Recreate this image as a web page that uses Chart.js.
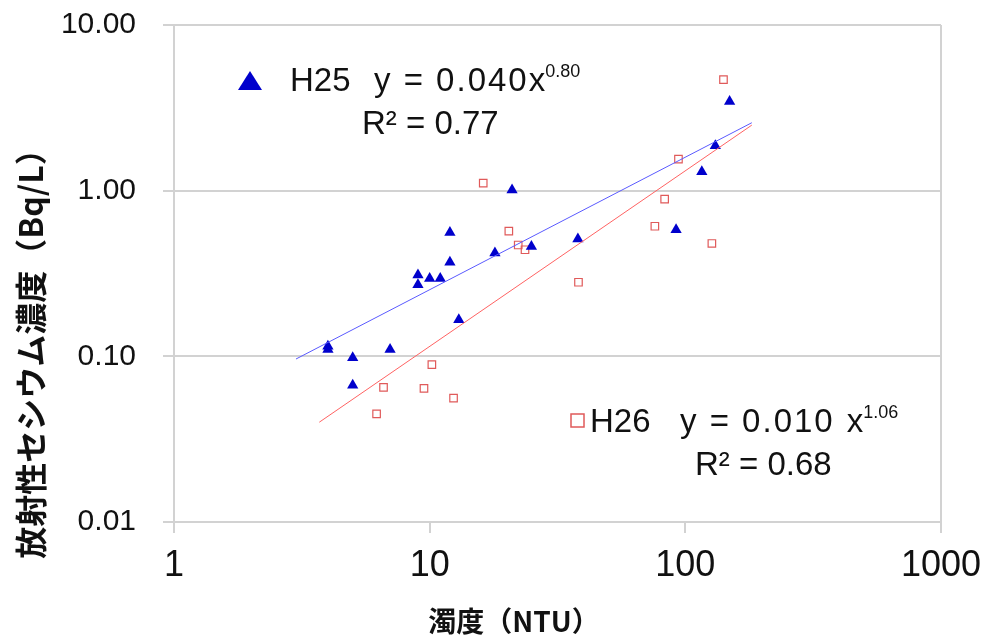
<!DOCTYPE html>
<html lang="ja">
<head>
<meta charset="utf-8">
<title>濁度と放射性セシウム濃度</title>
<script src="https://cdn.jsdelivr.net/npm/chart.js@4/dist/chart.umd.min.js"></script>
<style>
  html, body { margin: 0; padding: 0; background: #fff; }
  #wrap { position: relative; width: 983px; height: 641px; }
</style>
</head>
<body>
<div id="wrap"><canvas id="c"></canvas></div>
<script>
// H25 survey: turbidity (NTU) and radiocesium concentration (Bq/L)
const h25Turbidity = [4.0, 4.0, 5.0, 5.0, 7.0, 9.0, 9.0, 10.0, 11.0, 12.0, 12.0, 13.0, 18.0, 21.0, 25.0, 38.0, 92, 116, 131, 149];
const h25Cesium    = [0.115, 0.110, 0.098, 0.067, 0.110, 0.31, 0.27, 0.295, 0.295, 0.56, 0.37, 0.166, 0.42, 1.01, 0.46, 0.51, 0.58, 1.30, 1.87, 3.45];

// H26 survey
const h26Turbidity = [6.2, 6.6, 9.5, 10.2, 12.4, 16.2, 20.4, 22.2, 23.6, 38.2, 76, 83, 94, 127, 141];
const h26Cesium    = [0.045, 0.065, 0.064, 0.089, 0.056, 1.11, 0.57, 0.47, 0.44, 0.28, 0.61, 0.89, 1.55, 0.48, 4.68];

// Power-law fits y = a * x^b and the turbidity range each line spans
const h25Fit = { a: 0.040, b: 0.80, r2: 0.77, from: 3.0, to: 182 };
const h26Fit = { a: 0.010, b: 1.06, r2: 0.68, from: 3.7, to: 182 };

// Axis tick values
const xTicks = [1, 10, 100, 1000];
const yTicks = [0.01, 0.1, 1, 10];

const toPoints = (xs, ys) => xs.map((x, i) => ({ x: x, y: ys[i] }));
const fitLine = f => [f.from, f.to].map(x => ({ x: x, y: f.a * Math.pow(x, f.b) }));

const GRID = '#d2d2d2';
const LATIN = "'Liberation Sans', Arial, sans-serif";
const CJK = "'Noto Sans CJK JP', 'Noto Sans', sans-serif";

// Draws "name  y = a x^b" with a raised exponent
function powerText(ctx, p, y) {
  ctx.font = '33px ' + LATIN;
  ctx.fillText(p.name, p.nameX, y);
  ctx.letterSpacing = p.spacing;
  ctx.fillText(p.coef, p.coefX, y);
  const cw = ctx.measureText(p.coef).width;
  ctx.letterSpacing = '0px';
  const vx = p.coefX + cw + p.gap;
  ctx.fillText('x', vx, y);
  const w = ctx.measureText('x').width;
  ctx.font = '18px ' + LATIN;
  ctx.fillText(p.exp, vx + w, y - 14);
}

// Equation labels, axis titles
const notes = {
  id: 'notes',
  afterDraw(chart) {
    const ctx = chart.ctx;
    ctx.save();
    ctx.textBaseline = 'alphabetic';
    ctx.textAlign = 'left';

    // H25 key
    ctx.fillStyle = '#0000cc';
    ctx.beginPath();
    ctx.moveTo(250, 71); ctx.lineTo(262, 90); ctx.lineTo(238, 90);
    ctx.closePath(); ctx.fill();
    ctx.fillStyle = '#111';
    powerText(ctx, { name: 'H25', nameX: 290, coef: 'y = 0.040', coefX: 374, spacing: '2px', gap: 0,
                     exp: h25Fit.b.toFixed(2) }, 91);
    ctx.font = '33px ' + LATIN;
    ctx.fillText('R² = ' + h25Fit.r2.toFixed(2), 362, 134);

    // H26 key
    ctx.strokeStyle = '#e05a5a';
    ctx.lineWidth = 1.5;
    ctx.strokeRect(571, 414, 13, 13);
    powerText(ctx, { name: 'H26', nameX: 590, coef: 'y = 0.010', coefX: 680, spacing: '2px', gap: 12,
                     exp: h26Fit.b.toFixed(2) }, 432);
    ctx.font = '33px ' + LATIN;
    ctx.fillText('R² = ' + h26Fit.r2.toFixed(2), 695, 475);

    // Axis titles
    ctx.textAlign = 'center';
    ctx.font = 'bold 28px ' + CJK;
    ctx.fillText('濁度（NTU）', 514, 632);
    ctx.translate(31, 346);
    ctx.rotate(-Math.PI / 2);
    ctx.textBaseline = 'middle';
    ctx.font = 'bold 32px ' + CJK;
    ctx.fillText('放射性セシウム濃度（Bq/L）', 0, 0);
    ctx.restore();
  }
};

new Chart(document.getElementById('c'), {
  type: 'scatter',
  data: {
    datasets: [
      {
        type: 'line', label: 'H25 fit', data: fitLine(h25Fit),
        borderColor: '#5a5aff', borderWidth: 1, pointRadius: 0, fill: false
      },
      {
        type: 'line', label: 'H26 fit', data: fitLine(h26Fit),
        borderColor: '#ff6262', borderWidth: 1, pointRadius: 0, fill: false
      },
      {
        label: 'H25', data: toPoints(h25Turbidity, h25Cesium),
        pointStyle: 'triangle', pointRadius: 6.5, backgroundColor: '#0000cc', borderWidth: 0
      },
      {
        label: 'H26', data: toPoints(h26Turbidity, h26Cesium),
        pointStyle: 'rect', pointRadius: 5.3, backgroundColor: 'rgba(255,255,255,0)',
        borderColor: '#e05a5a', borderWidth: 1.2
      }
    ]
  },
  options: {
    responsive: true,
    maintainAspectRatio: false,
    animation: false,
    events: [],
    layout: { padding: { top: 25, right: 42, left: 0, bottom: 0 } },
    plugins: { legend: { display: false }, tooltip: { enabled: false } },
    scales: {
      x: {
        type: 'logarithmic', position: 'bottom', min: 1, max: 1000,
        afterBuildTicks: s => { s.ticks = xTicks.map(v => ({ value: v })); },
        afterFit: s => { s.height = 119; s.paddingLeft = 0; s.paddingRight = 0; },
        ticks: {
          callback: v => String(v), padding: 11, maxRotation: 0, autoSkip: false,
          color: '#111', font: { family: LATIN, size: 36 }
        },
        grid: {
          color: c => (c.tick && c.tick.value === 1000 ? GRID : 'rgba(0,0,0,0)'),
          lineWidth: 2, tickColor: GRID, tickLength: 11, drawTicks: true
        },
        border: { display: true, color: GRID, width: 2 }
      },
      y: {
        type: 'logarithmic', min: 0.01, max: 10,
        afterBuildTicks: s => { s.ticks = yTicks.map(v => ({ value: v })); },
        afterFit: s => { s.width = 174; s.paddingTop = 0; s.paddingBottom = 0; },
        ticks: {
          callback: v => Number(v).toFixed(2), padding: 27, autoSkip: false,
          color: '#111', font: { family: LATIN, size: 30 }
        },
        grid: { color: GRID, lineWidth: 2, tickColor: GRID, tickLength: 11 },
        border: { display: true, color: GRID, width: 2 }
      }
    }
  },
  plugins: [notes]
});
</script>
</body>
</html>
